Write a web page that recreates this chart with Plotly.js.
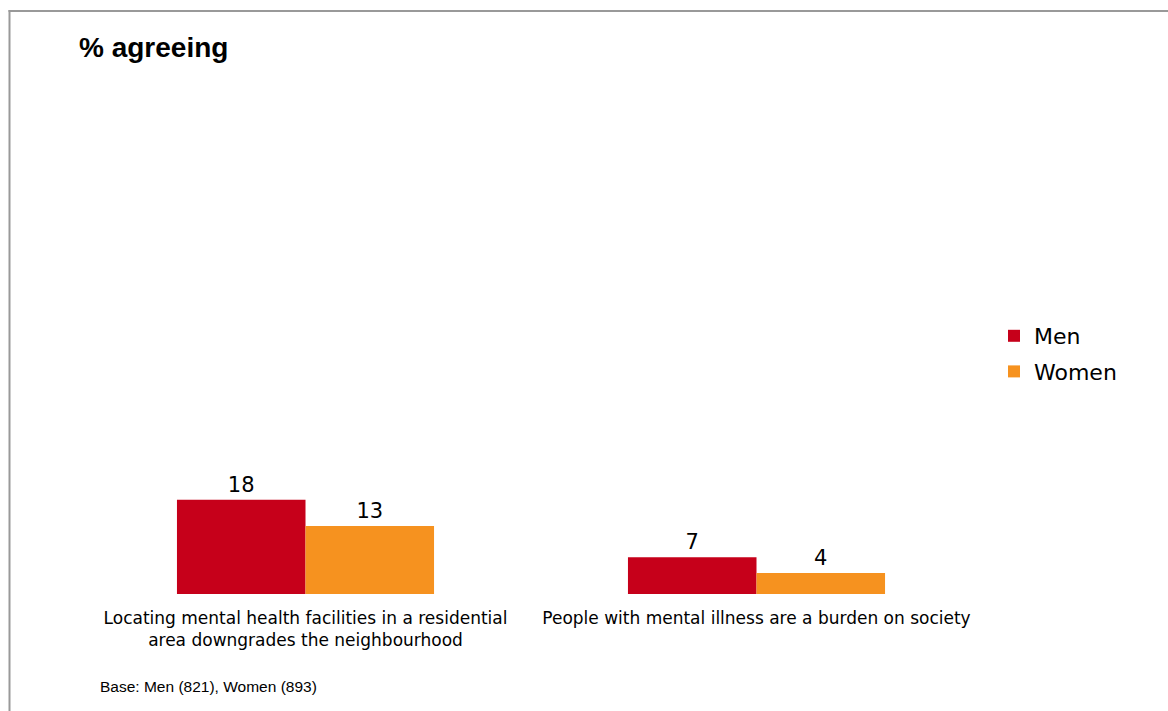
<!DOCTYPE html>
<html>
<head>
<meta charset="utf-8">
<script src="https://cdn.plot.ly/plotly-3.0.1.min.js"></script>
<style>html,body{margin:0;padding:0;background:#fff;}#chart{width:1168px;height:711px;}</style>
</head>
<body>
<div id="chart"></div>
<script>
const categories = [
  "Locating mental health facilities in a residential<br>area downgrades the neighbourhood",
  "People with mental illness are a burden on society"
];
const seriesNames = ["Men", "Women"];
const menValues = [18, 7];
const womenValues = [13, 4];
const colors = ["#C6001A", "#F6921F"];
const titleText = "% agreeing";
const footnote = "Base: Men (821), Women (893)";

const W = 1168, H = 711;
const L = 80, R = 186, T = 70, B = 117;
const pw = W - L - R, ph = H - T - B;
const px = x => (x - L) / pw;
const py = y => (H - B - y) / ph;

const labelFont = {family: "DejaVu Sans, Verdana, sans-serif", size: 21, color: "#000"};

const traces = [menValues, womenValues].map((vals, i) => ({
  type: "bar",
  name: seriesNames[i],
  x: categories,
  y: vals,
  marker: {color: colors[i], line: {width: 0}},
  text: vals.map(String),
  textposition: "outside",
  textfont: labelFont,
  cliponaxis: false,
  legendgroup: "g" + i,
  hoverinfo: "x+y+name"
}));

const layout = {
  width: W, height: H,
  margin: {l: L, r: R, t: T, b: B, pad: 0},
  paper_bgcolor: "#fff",
  plot_bgcolor: "#fff",
  barmode: "group",
  bargap: 0.43,
  bargroupgap: 0,
  showlegend: true,
  legend: {
    x: px(994), xanchor: "left",
    y: py(315), yanchor: "top",
    font: {family: "DejaVu Sans, Verdana, sans-serif", size: 22, color: "#000"},
    traceorder: "grouped",
    tracegroupgap: 4,
    itemwidth: 30,
    bgcolor: "rgba(0,0,0,0)"
  },
  xaxis: {
    showline: false, showgrid: false, zeroline: false, ticks: "",
    ticklabelstandoff: 12,
    tickfont: {family: "DejaVu Sans, Verdana, sans-serif", size: 17, color: "#000"},
    fixedrange: true
  },
  yaxis: {
    range: [0, 100], visible: false, showgrid: false, zeroline: false, fixedrange: true
  },
  annotations: [
    {xref: "paper", yref: "paper", x: px(77), y: py(47), xanchor: "left", yanchor: "middle",
     text: "<b>" + titleText + "</b>", showarrow: false,
     font: {family: "Liberation Sans, Arial, sans-serif", size: 28, color: "#000"}},
    {xref: "paper", yref: "paper", x: px(98), y: py(686), xanchor: "left", yanchor: "middle",
     text: footnote, showarrow: false,
     font: {family: "Liberation Sans, Arial, sans-serif", size: 15.5, color: "#000"}}
  ],
  shapes: [
    {type: "line", xref: "paper", yref: "paper", x0: px(9.5), x1: px(9.5), y0: py(10), y1: py(712),
     line: {color: "#999", width: 2}},
    {type: "line", xref: "paper", yref: "paper", x0: px(8.5), x1: px(1169), y0: py(11), y1: py(11),
     line: {color: "#999", width: 2}}
  ]
};

Plotly.newPlot("chart", traces, layout, {displayModeBar: false, responsive: false});
</script>
</body>
</html>
